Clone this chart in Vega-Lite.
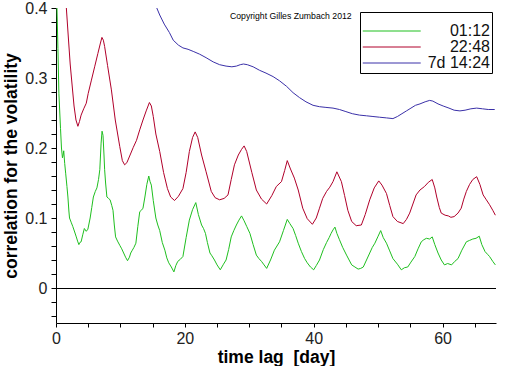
{
  "$schema": "https://vega.github.io/schema/vega-lite/v6.json",
  "autosize": "none",
  "width": 440,
  "height": 315,
  "padding": {"left": 56, "top": 8, "right": 16, "bottom": 43},
  "background": "white",
  "config": {
    "view": {"stroke": null},
    "font": "Liberation Sans",
    "axis": {"grid": false, "domainColor": "black", "tickColor": "black", "labelColor": "#222", "titleColor": "black", "labelFont": "Liberation Sans", "titleFont": "Liberation Sans", "labelFontSize": 16, "titleFontSize": 17.5, "titleFontWeight": "bold", "domainWidth": 1, "tickWidth": 1, "labelFlush": false}
  },
  "datasets": {
    "series": [
      {"s":"01:12","x":0.05,"y":0.45},{"s":"01:12","x":0.15,"y":0.40},{"s":"01:12","x":0.3,"y":0.342},{"s":"01:12","x":0.45,"y":0.278},{"s":"01:12","x":0.7,"y":0.228},{"s":"01:12","x":0.85,"y":0.20},{"s":"01:12","x":1.0,"y":0.186},{"s":"01:12","x":1.1,"y":0.19},{"s":"01:12","x":1.2,"y":0.196},{"s":"01:12","x":1.35,"y":0.178},{"s":"01:12","x":1.5,"y":0.164},{"s":"01:12","x":1.7,"y":0.145},{"s":"01:12","x":1.85,"y":0.130},{"s":"01:12","x":2.0,"y":0.11},{"s":"01:12","x":2.1,"y":0.100},{"s":"01:12","x":2.35,"y":0.094},{"s":"01:12","x":2.6,"y":0.088},{"s":"01:12","x":2.9,"y":0.080},{"s":"01:12","x":3.15,"y":0.073},{"s":"01:12","x":3.35,"y":0.067},{"s":"01:12","x":3.55,"y":0.062},{"s":"01:12","x":3.7,"y":0.065},{"s":"01:12","x":3.9,"y":0.066},{"s":"01:12","x":4.15,"y":0.076},{"s":"01:12","x":4.4,"y":0.085},{"s":"01:12","x":4.7,"y":0.081},{"s":"01:12","x":4.95,"y":0.084},{"s":"01:12","x":5.3,"y":0.100},{"s":"01:12","x":5.55,"y":0.115},{"s":"01:12","x":5.8,"y":0.130},{"s":"01:12","x":6.1,"y":0.138},{"s":"01:12","x":6.35,"y":0.143},{"s":"01:12","x":6.6,"y":0.155},{"s":"01:12","x":6.8,"y":0.169},{"s":"01:12","x":7.0,"y":0.207},{"s":"01:12","x":7.15,"y":0.224},{"s":"01:12","x":7.3,"y":0.218},{"s":"01:12","x":7.45,"y":0.19},{"s":"01:12","x":7.55,"y":0.169},{"s":"01:12","x":7.7,"y":0.15},{"s":"01:12","x":7.9,"y":0.130},{"s":"01:12","x":8.15,"y":0.128},{"s":"01:12","x":8.4,"y":0.126},{"s":"01:12","x":8.65,"y":0.118},{"s":"01:12","x":8.85,"y":0.111},{"s":"01:12","x":9.05,"y":0.09},{"s":"01:12","x":9.25,"y":0.073},{"s":"01:12","x":9.55,"y":0.067},{"s":"01:12","x":9.9,"y":0.061},{"s":"01:12","x":10.2,"y":0.056},{"s":"01:12","x":10.5,"y":0.050},{"s":"01:12","x":10.8,"y":0.044},{"s":"01:12","x":11.1,"y":0.039},{"s":"01:12","x":11.4,"y":0.044},{"s":"01:12","x":11.6,"y":0.050},{"s":"01:12","x":11.85,"y":0.054},{"s":"01:12","x":12.1,"y":0.058},{"s":"01:12","x":12.4,"y":0.064},{"s":"01:12","x":12.7,"y":0.088},{"s":"01:12","x":13.0,"y":0.109},{"s":"01:12","x":13.25,"y":0.111},{"s":"01:12","x":13.5,"y":0.114},{"s":"01:12","x":13.8,"y":0.130},{"s":"01:12","x":14.1,"y":0.148},{"s":"01:12","x":14.4,"y":0.160},{"s":"01:12","x":14.6,"y":0.152},{"s":"01:12","x":14.8,"y":0.147},{"s":"01:12","x":15.1,"y":0.125},{"s":"01:12","x":15.5,"y":0.100},{"s":"01:12","x":15.8,"y":0.090},{"s":"01:12","x":16.1,"y":0.082},{"s":"01:12","x":16.5,"y":0.065},{"s":"01:12","x":16.9,"y":0.054},{"s":"01:12","x":17.2,"y":0.043},{"s":"01:12","x":17.5,"y":0.036},{"s":"01:12","x":17.9,"y":0.030},{"s":"01:12","x":18.3,"y":0.023},{"s":"01:12","x":18.6,"y":0.032},{"s":"01:12","x":18.9,"y":0.038},{"s":"01:12","x":19.3,"y":0.041},{"s":"01:12","x":19.7,"y":0.045},{"s":"01:12","x":20.2,"y":0.072},{"s":"01:12","x":20.7,"y":0.097},{"s":"01:12","x":21.2,"y":0.112},{"s":"01:12","x":21.7,"y":0.122},{"s":"01:12","x":22.1,"y":0.105},{"s":"01:12","x":22.6,"y":0.090},{"s":"01:12","x":22.9,"y":0.085},{"s":"01:12","x":23.2,"y":0.078},{"s":"01:12","x":23.5,"y":0.065},{"s":"01:12","x":23.9,"y":0.050},{"s":"01:12","x":24.2,"y":0.046},{"s":"01:12","x":24.6,"y":0.040},{"s":"01:12","x":25.0,"y":0.033},{"s":"01:12","x":25.5,"y":0.026},{"s":"01:12","x":26.0,"y":0.034},{"s":"01:12","x":26.4,"y":0.040},{"s":"01:12","x":26.8,"y":0.055},{"s":"01:12","x":27.2,"y":0.073},{"s":"01:12","x":27.6,"y":0.082},{"s":"01:12","x":28.0,"y":0.090},{"s":"01:12","x":28.4,"y":0.097},{"s":"01:12","x":28.8,"y":0.103},{"s":"01:12","x":29.2,"y":0.096},{"s":"01:12","x":29.6,"y":0.088},{"s":"01:12","x":30.1,"y":0.078},{"s":"01:12","x":30.6,"y":0.062},{"s":"01:12","x":31.1,"y":0.047},{"s":"01:12","x":31.5,"y":0.042},{"s":"01:12","x":31.9,"y":0.038},{"s":"01:12","x":32.3,"y":0.033},{"s":"01:12","x":32.7,"y":0.028},{"s":"01:12","x":33.3,"y":0.040},{"s":"01:12","x":33.9,"y":0.054},{"s":"01:12","x":34.3,"y":0.060},{"s":"01:12","x":34.7,"y":0.066},{"s":"01:12","x":35.3,"y":0.082},{"s":"01:12","x":35.9,"y":0.098},{"s":"01:12","x":36.3,"y":0.092},{"s":"01:12","x":36.8,"y":0.085},{"s":"01:12","x":37.2,"y":0.075},{"s":"01:12","x":37.6,"y":0.064},{"s":"01:12","x":38.1,"y":0.052},{"s":"01:12","x":38.6,"y":0.042},{"s":"01:12","x":39.0,"y":0.036},{"s":"01:12","x":39.5,"y":0.030},{"s":"01:12","x":40.0,"y":0.026},{"s":"01:12","x":40.4,"y":0.032},{"s":"01:12","x":40.9,"y":0.040},{"s":"01:12","x":41.5,"y":0.055},{"s":"01:12","x":42.0,"y":0.065},{"s":"01:12","x":42.4,"y":0.072},{"s":"01:12","x":42.7,"y":0.078},{"s":"01:12","x":43.0,"y":0.083},{"s":"01:12","x":43.3,"y":0.087},{"s":"01:12","x":43.6,"y":0.078},{"s":"01:12","x":44.0,"y":0.069},{"s":"01:12","x":44.5,"y":0.058},{"s":"01:12","x":45.1,"y":0.047},{"s":"01:12","x":45.5,"y":0.040},{"s":"01:12","x":45.9,"y":0.033},{"s":"01:12","x":46.4,"y":0.030},{"s":"01:12","x":46.9,"y":0.027},{"s":"01:12","x":47.3,"y":0.028},{"s":"01:12","x":47.7,"y":0.030},{"s":"01:12","x":48.2,"y":0.040},{"s":"01:12","x":48.7,"y":0.050},{"s":"01:12","x":49.1,"y":0.058},{"s":"01:12","x":49.5,"y":0.064},{"s":"01:12","x":50.0,"y":0.074},{"s":"01:12","x":50.4,"y":0.082},{"s":"01:12","x":50.8,"y":0.072},{"s":"01:12","x":51.3,"y":0.064},{"s":"01:12","x":51.8,"y":0.053},{"s":"01:12","x":52.3,"y":0.042},{"s":"01:12","x":53.0,"y":0.034},{"s":"01:12","x":53.6,"y":0.026},{"s":"01:12","x":54.1,"y":0.029},{"s":"01:12","x":54.6,"y":0.030},{"s":"01:12","x":55.1,"y":0.037},{"s":"01:12","x":55.7,"y":0.045},{"s":"01:12","x":56.2,"y":0.056},{"s":"01:12","x":56.7,"y":0.066},{"s":"01:12","x":57.1,"y":0.069},{"s":"01:12","x":57.5,"y":0.071},{"s":"01:12","x":58.0,"y":0.070},{"s":"01:12","x":58.4,"y":0.073},{"s":"01:12","x":58.8,"y":0.062},{"s":"01:12","x":59.3,"y":0.050},{"s":"01:12","x":59.8,"y":0.040},{"s":"01:12","x":60.3,"y":0.033},{"s":"01:12","x":60.8,"y":0.035},{"s":"01:12","x":61.4,"y":0.033},{"s":"01:12","x":61.9,"y":0.038},{"s":"01:12","x":62.4,"y":0.042},{"s":"01:12","x":63.0,"y":0.054},{"s":"01:12","x":63.7,"y":0.066},{"s":"01:12","x":64.2,"y":0.068},{"s":"01:12","x":64.7,"y":0.070},{"s":"01:12","x":65.2,"y":0.071},{"s":"01:12","x":65.7,"y":0.074},{"s":"01:12","x":66.1,"y":0.062},{"s":"01:12","x":66.6,"y":0.052},{"s":"01:12","x":67.0,"y":0.048},{"s":"01:12","x":67.3,"y":0.045},{"s":"01:12","x":67.8,"y":0.038},{"s":"01:12","x":68.2,"y":0.033},

      {"s":"22:48","x":1.4,"y":0.43},{"s":"22:48","x":1.6,"y":0.401},{"s":"22:48","x":1.9,"y":0.36},{"s":"22:48","x":2.2,"y":0.32},{"s":"22:48","x":2.5,"y":0.29},{"s":"22:48","x":2.8,"y":0.26},{"s":"22:48","x":3.1,"y":0.24},{"s":"22:48","x":3.4,"y":0.231},{"s":"22:48","x":3.65,"y":0.238},{"s":"22:48","x":3.9,"y":0.247},{"s":"22:48","x":4.3,"y":0.256},{"s":"22:48","x":4.7,"y":0.264},{"s":"22:48","x":5.0,"y":0.278},{"s":"22:48","x":5.5,"y":0.297},{"s":"22:48","x":6.0,"y":0.316},{"s":"22:48","x":6.5,"y":0.335},{"s":"22:48","x":6.9,"y":0.35},{"s":"22:48","x":7.13,"y":0.358},{"s":"22:48","x":7.35,"y":0.354},{"s":"22:48","x":7.55,"y":0.345},{"s":"22:48","x":8.0,"y":0.318},{"s":"22:48","x":8.6,"y":0.283},{"s":"22:48","x":9.2,"y":0.24},{"s":"22:48","x":9.9,"y":0.202},{"s":"22:48","x":10.3,"y":0.182},{"s":"22:48","x":10.65,"y":0.176},{"s":"22:48","x":11.0,"y":0.179},{"s":"22:48","x":11.5,"y":0.190},{"s":"22:48","x":12.0,"y":0.201},{"s":"22:48","x":12.5,"y":0.211},{"s":"22:48","x":13.0,"y":0.226},{"s":"22:48","x":13.5,"y":0.240},{"s":"22:48","x":14.0,"y":0.253},{"s":"22:48","x":14.5,"y":0.265},{"s":"22:48","x":14.8,"y":0.260},{"s":"22:48","x":15.1,"y":0.245},{"s":"22:48","x":15.5,"y":0.22},{"s":"22:48","x":16.1,"y":0.195},{"s":"22:48","x":16.7,"y":0.165},{"s":"22:48","x":17.3,"y":0.142},{"s":"22:48","x":17.8,"y":0.130},{"s":"22:48","x":18.4,"y":0.125},{"s":"22:48","x":19.0,"y":0.131},{"s":"22:48","x":19.7,"y":0.142},{"s":"22:48","x":20.2,"y":0.165},{"s":"22:48","x":20.7,"y":0.195},{"s":"22:48","x":21.2,"y":0.215},{"s":"22:48","x":21.6,"y":0.223},{"s":"22:48","x":22.0,"y":0.215},{"s":"22:48","x":22.6,"y":0.190},{"s":"22:48","x":23.3,"y":0.166},{"s":"22:48","x":24.1,"y":0.138},{"s":"22:48","x":24.7,"y":0.129},{"s":"22:48","x":25.4,"y":0.126},{"s":"22:48","x":26.1,"y":0.128},{"s":"22:48","x":26.7,"y":0.133},{"s":"22:48","x":27.2,"y":0.155},{"s":"22:48","x":27.7,"y":0.176},{"s":"22:48","x":28.3,"y":0.190},{"s":"22:48","x":28.8,"y":0.198},{"s":"22:48","x":29.2,"y":0.203},{"s":"22:48","x":29.6,"y":0.195},{"s":"22:48","x":30.4,"y":0.165},{"s":"22:48","x":31.1,"y":0.140},{"s":"22:48","x":31.9,"y":0.127},{"s":"22:48","x":32.7,"y":0.120},{"s":"22:48","x":33.5,"y":0.132},{"s":"22:48","x":34.2,"y":0.145},{"s":"22:48","x":35.0,"y":0.152},{"s":"22:48","x":35.5,"y":0.168},{"s":"22:48","x":35.9,"y":0.182},{"s":"22:48","x":36.4,"y":0.170},{"s":"22:48","x":37.0,"y":0.157},{"s":"22:48","x":37.6,"y":0.140},{"s":"22:48","x":38.3,"y":0.114},{"s":"22:48","x":39.0,"y":0.099},{"s":"22:48","x":39.8,"y":0.091},{"s":"22:48","x":40.4,"y":0.100},{"s":"22:48","x":40.9,"y":0.114},{"s":"22:48","x":41.4,"y":0.128},{"s":"22:48","x":42.0,"y":0.138},{"s":"22:48","x":42.5,"y":0.144},{"s":"22:48","x":43.0,"y":0.152},{"s":"22:48","x":43.6,"y":0.166},{"s":"22:48","x":44.3,"y":0.152},{"s":"22:48","x":44.8,"y":0.132},{"s":"22:48","x":45.3,"y":0.111},{"s":"22:48","x":45.9,"y":0.095},{"s":"22:48","x":46.6,"y":0.089},{"s":"22:48","x":47.4,"y":0.090},{"s":"22:48","x":48.0,"y":0.105},{"s":"22:48","x":48.7,"y":0.126},{"s":"22:48","x":49.4,"y":0.143},{"s":"22:48","x":50.1,"y":0.153},{"s":"22:48","x":50.6,"y":0.147},{"s":"22:48","x":51.3,"y":0.135},{"s":"22:48","x":51.8,"y":0.118},{"s":"22:48","x":52.3,"y":0.102},{"s":"22:48","x":53.0,"y":0.095},{"s":"22:48","x":53.9,"y":0.092},{"s":"22:48","x":54.4,"y":0.098},{"s":"22:48","x":54.9,"y":0.107},{"s":"22:48","x":55.4,"y":0.120},{"s":"22:48","x":55.9,"y":0.133},{"s":"22:48","x":56.5,"y":0.140},{"s":"22:48","x":57.2,"y":0.145},{"s":"22:48","x":57.8,"y":0.151},{"s":"22:48","x":58.4,"y":0.155},{"s":"22:48","x":58.8,"y":0.143},{"s":"22:48","x":59.1,"y":0.130},{"s":"22:48","x":59.5,"y":0.115},{"s":"22:48","x":59.8,"y":0.107},{"s":"22:48","x":60.4,"y":0.104},{"s":"22:48","x":60.9,"y":0.103},{"s":"22:48","x":61.3,"y":0.101},{"s":"22:48","x":61.8,"y":0.102},{"s":"22:48","x":62.4,"y":0.107},{"s":"22:48","x":62.9,"y":0.114},{"s":"22:48","x":63.3,"y":0.127},{"s":"22:48","x":63.7,"y":0.138},{"s":"22:48","x":64.2,"y":0.148},{"s":"22:48","x":64.7,"y":0.155},{"s":"22:48","x":65.3,"y":0.159},{"s":"22:48","x":65.8,"y":0.148},{"s":"22:48","x":66.3,"y":0.133},{"s":"22:48","x":66.8,"y":0.126},{"s":"22:48","x":67.3,"y":0.119},{"s":"22:48","x":67.8,"y":0.111},{"s":"22:48","x":68.2,"y":0.104},

      {"s":"7d 14:24","x":15.2,"y":0.41},{"s":"7d 14:24","x":15.6,"y":0.401},{"s":"7d 14:24","x":16.1,"y":0.39},{"s":"7d 14:24","x":16.8,"y":0.377},{"s":"7d 14:24","x":17.6,"y":0.365},{"s":"7d 14:24","x":18.2,"y":0.354},{"s":"7d 14:24","x":19.0,"y":0.347},{"s":"7d 14:24","x":19.7,"y":0.343},{"s":"7d 14:24","x":20.5,"y":0.341},{"s":"7d 14:24","x":21.3,"y":0.338},{"s":"7d 14:24","x":22.3,"y":0.334},{"s":"7d 14:24","x":23.3,"y":0.329},{"s":"7d 14:24","x":24.4,"y":0.323},{"s":"7d 14:24","x":25.4,"y":0.319},{"s":"7d 14:24","x":26.4,"y":0.317},{"s":"7d 14:24","x":27.3,"y":0.316},{"s":"7d 14:24","x":28.0,"y":0.317},{"s":"7d 14:24","x":28.6,"y":0.319},{"s":"7d 14:24","x":29.1,"y":0.320},{"s":"7d 14:24","x":29.7,"y":0.319},{"s":"7d 14:24","x":30.6,"y":0.316},{"s":"7d 14:24","x":31.6,"y":0.311},{"s":"7d 14:24","x":32.6,"y":0.307},{"s":"7d 14:24","x":33.7,"y":0.302},{"s":"7d 14:24","x":34.7,"y":0.296},{"s":"7d 14:24","x":35.8,"y":0.288},{"s":"7d 14:24","x":36.8,"y":0.279},{"s":"7d 14:24","x":37.8,"y":0.272},{"s":"7d 14:24","x":38.8,"y":0.266},{"s":"7d 14:24","x":39.9,"y":0.261},{"s":"7d 14:24","x":40.9,"y":0.259},{"s":"7d 14:24","x":41.9,"y":0.258},{"s":"7d 14:24","x":43.0,"y":0.257},{"s":"7d 14:24","x":44.0,"y":0.255},{"s":"7d 14:24","x":45.0,"y":0.252},{"s":"7d 14:24","x":46.0,"y":0.249},{"s":"7d 14:24","x":47.1,"y":0.247},{"s":"7d 14:24","x":48.2,"y":0.246},{"s":"7d 14:24","x":49.2,"y":0.245},{"s":"7d 14:24","x":50.2,"y":0.244},{"s":"7d 14:24","x":51.3,"y":0.243},{"s":"7d 14:24","x":52.3,"y":0.242},{"s":"7d 14:24","x":53.0,"y":0.245},{"s":"7d 14:24","x":53.7,"y":0.249},{"s":"7d 14:24","x":54.4,"y":0.253},{"s":"7d 14:24","x":55.1,"y":0.257},{"s":"7d 14:24","x":55.8,"y":0.261},{"s":"7d 14:24","x":56.5,"y":0.263},{"s":"7d 14:24","x":57.3,"y":0.266},{"s":"7d 14:24","x":58.0,"y":0.268},{"s":"7d 14:24","x":58.5,"y":0.267},{"s":"7d 14:24","x":59.3,"y":0.263},{"s":"7d 14:24","x":60.1,"y":0.260},{"s":"7d 14:24","x":61.0,"y":0.257},{"s":"7d 14:24","x":61.8,"y":0.254},{"s":"7d 14:24","x":62.7,"y":0.253},{"s":"7d 14:24","x":63.5,"y":0.254},{"s":"7d 14:24","x":64.4,"y":0.256},{"s":"7d 14:24","x":65.3,"y":0.257},{"s":"7d 14:24","x":66.2,"y":0.256},{"s":"7d 14:24","x":67.1,"y":0.255},{"s":"7d 14:24","x":68.1,"y":0.255}
    ]
  },
  "layer": [
    {
      "data": {"values": [{"z": 0}]},
      "mark": {"type": "rule", "color": "black", "strokeWidth": 1, "yOffset": 0.5},
      "encoding": {"y": {"field": "z", "type": "quantitative"}}
    },
    {
      "data": {"name": "series"},
      "mark": {"type": "line", "strokeWidth": 1, "clip": true, "interpolate": "linear"},
      "encoding": {
        "x": {
          "field": "x", "type": "quantitative",
          "scale": {"domain": [0, 68.3], "nice": false, "zero": false},
          "axis": {
            "title": "time lag\u00a0 [day]",
            "values": [0, 5, 10, 15, 20, 25, 30, 35, 40, 45, 50, 55, 60, 65],
            "tickCount": 100,
            "format": "~g",
            "labelExpr": "datum.value % 20 == 0 ? datum.label : ''",
            "labelOverlap": false,
            "tickSize": 4,
            "labelPadding": 3,
            "titlePadding": 2
          }
        },
        "y": {
          "field": "y", "type": "quantitative",
          "scale": {"domain": [-0.05, 0.4], "nice": false, "zero": false},
          "axis": {
            "title": "correlation for the volatility",
            "values": [-0.04, -0.02, 0, 0.02, 0.04, 0.06, 0.08, 0.1, 0.12, 0.14, 0.16, 0.18, 0.2, 0.22, 0.24, 0.26, 0.28, 0.3, 0.32, 0.34, 0.36, 0.38, 0.4],
            "tickCount": 100,
            "format": "~g",
            "labelExpr": "indexof(['0','0.1','0.2','0.3','0.4'], datum.label) >= 0 ? datum.label : ''",
            "labelOverlap": false,
            "tickSize": 5,
            "labelPadding": 4,
            "titlePadding": 4
          }
        },
        "color": {
          "field": "s", "type": "nominal",
          "scale": {"domain": ["01:12", "22:48", "7d 14:24"], "range": ["#1fbf1f", "#b0002a", "#3a30a8"]},
          "legend": {
            "title": "\u00a0",
            "titleFontSize": 8,
            "titlePadding": 1,
            "orient": "none",
            "legendX": 304,
            "legendY": 4,
            "symbolType": "M-1,0H7",
            "symbolSize": 210,
            "symbolStrokeWidth": 1,
            "labelFontSize": 16,
            "labelFont": "Liberation Sans",
            "labelColor": "#111",
            "labelAlign": "right",
            "labelOffset": 112,
            "strokeColor": "black",
            "fillColor": "white",
            "padding": 2,
            "rowPadding": -1,
            "cornerRadius": 0
          }
        }
      }
    },
    {
      "data": {"values": [{"t": "Copyright Gilles Zumbach 2012"}]},
      "mark": {"type": "text", "align": "left", "baseline": "middle", "fontSize": 8.7, "font": "Liberation Sans", "color": "black"},
      "encoding": {
        "x": {"datum": 27},
        "y": {"datum": 0.389},
        "text": {"field": "t"}
      }
    }
  ]
}
